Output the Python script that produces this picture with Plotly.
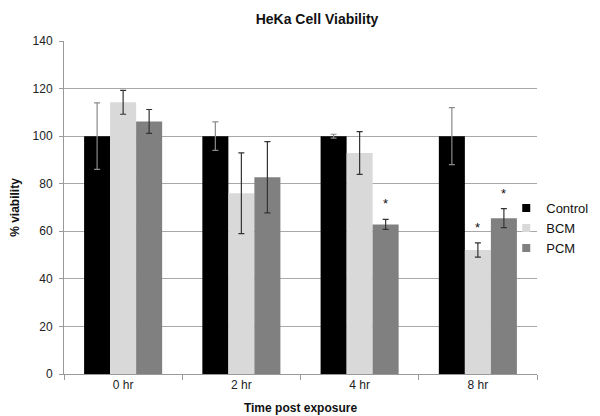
import plotly.graph_objects as go

categories = ["0 hr", "2 hr", "4 hr", "8 hr"]
control = [100, 100, 100, 100]
control_err = [14, 6, 0.8, 12]
bcm = [114.2, 76, 92.9, 52.1]
bcm_err = [5, 17, 9, 3]
pcm = [106.2, 82.7, 62.9, 65.5]
pcm_err = [5, 15, 2.1, 4]
# significance markers: (category, series, y)
stars = [("4 hr", "PCM", 71.5), ("8 hr", "BCM", 61.5), ("8 hr", "PCM", 76)]
y_ticks = [0, 20, 40, 60, 80, 100, 120, 140]

FONT = "Liberation Sans, Arial, sans-serif"
W, H = 600, 416
L, R, T, B = 56, 71, 33, 50
bargap = 0.34

fig = go.Figure()
series = [("Control", control, control_err, "#000000", "#8a8a8a"),
          ("BCM", bcm, bcm_err, "#d9d9d9", "#333333"),
          ("PCM", pcm, pcm_err, "#808080", "#333333")]
for name, vals, errs, col, ecol in series:
    fig.add_trace(go.Bar(
        name=name, x=categories, y=vals, showlegend=False,
        marker=dict(color=col, line=dict(width=0)),
        error_y=dict(type="data", array=errs, visible=True,
                     color=ecol, thickness=1.2, width=3),
    ))
    # legend entry with a small square swatch like the reference
    fig.add_trace(go.Scatter(
        name=name, x=[None], y=[None], mode="markers",
        marker=dict(symbol="square", size=8, color=col),
        showlegend=True, hoverinfo="skip",
    ))

plot_w = W - L - R
bar_w = plot_w / len(categories) * (1 - bargap) / 3
offsets = {"Control": -1, "BCM": 0, "PCM": 1}
for cat, ser, yv in stars:
    fig.add_annotation(x=cat, y=yv, xref="x", yref="y", text="*",
                       showarrow=False, xshift=offsets[ser] * bar_w,
                       font=dict(family=FONT, size=13, color="#111"))

fig.update_layout(
    width=W, height=H,
    margin=dict(l=L, r=R, t=T, b=B, autoexpand=False),
    paper_bgcolor="white", plot_bgcolor="white",
    barmode="group", bargap=bargap, bargroupgap=0,
    font=dict(family=FONT, size=12, color="#222"),
    title=dict(text="<b>HeKa Cell Viability</b>", x=0.515, xanchor="center",
               xref="container", y=0.974, yanchor="middle",
               font=dict(size=14, color="#111")),
    legend=dict(x=0.935, y=0.438, xanchor="left", yanchor="middle",
                bgcolor="rgba(0,0,0,0)",
                font=dict(size=13, color="#111"), itemwidth=30),
    xaxis=dict(showline=True, linecolor="#9a9a9a", linewidth=1,
               ticks="outside", tickson="boundaries", ticklen=5,
               tickcolor="#9a9a9a",
               title=dict(text="<b>Time post exposure</b>", standoff=12,
                          font=dict(size=12, color="#111"))),
    yaxis=dict(range=[0, 140], tickvals=y_ticks, showline=True,
               linecolor="#9a9a9a", linewidth=1, ticks="outside",
               ticklen=4, tickcolor="#9a9a9a", showgrid=True,
               gridcolor="#a8a8a8", gridwidth=1, zeroline=False,
               ticklabelstandoff=4,
               title=dict(text="<b>% viability</b>", standoff=10,
                          font=dict(size=12, color="#111"))),
)

fig.write_html("out.html")
